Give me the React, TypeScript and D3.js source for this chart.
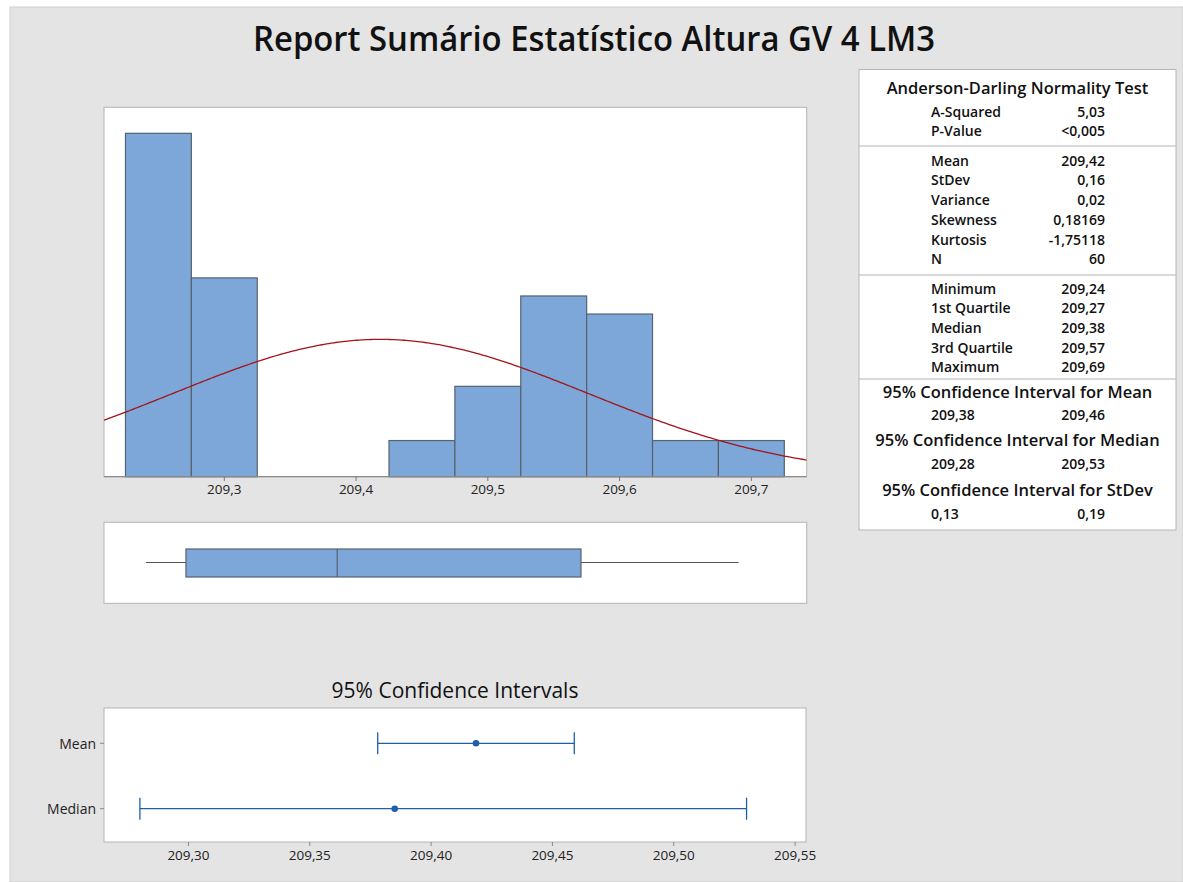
import React from "react";
import * as d3 from "d3";

const TITLE = "Report Sumário Estatístico Altura GV 4 LM3";

// Histogram data
const binEdges = [209.225, 209.275, 209.325, 209.375, 209.425, 209.475, 209.525, 209.575, 209.625, 209.675, 209.725];
const binCounts = [19, 11, 0, 0, 2, 5, 10, 9, 2, 2];
const histTicks = [209.3, 209.4, 209.5, 209.6, 209.7];
const N = 60;
const fitMean = 209.4185;
const fitSd = 0.1575;

// Boxplot five-number summary
const boxStats = { min: 209.2405, q1: 209.2709, median: 209.3857, q3: 209.5707, max: 209.6903 };

// Confidence intervals
const ciRows = ["Mean", "Median"];
const ciCenters = [209.4185, 209.385];
const ciLows = [209.378, 209.28];
const ciHighs = [209.459, 209.53];
const ciTicks = [209.3, 209.35, 209.4, 209.45, 209.5, 209.55];

// Statistics table
const adLabels = ["A-Squared", "P-Value"];
const adValues = ["5,03", "<0,005"];
const momentLabels = ["Mean", "StDev", "Variance", "Skewness", "Kurtosis", "N"];
const momentValues = ["209,42", "0,16", "0,02", "0,18169", "-1,75118", "60"];
const quantLabels = ["Minimum", "1st Quartile", "Median", "3rd Quartile", "Maximum"];
const quantValues = ["209,24", "209,27", "209,38", "209,57", "209,69"];
const ciTableTitles = ["95% Confidence Interval for Mean", "95% Confidence Interval for Median", "95% Confidence Interval for StDev"];
const ciTableLow = ["209,38", "209,28", "0,13"];
const ciTableHigh = ["209,46", "209,53", "0,19"];

const FONT = "'Open Sans', 'Noto Sans', sans-serif";
const BAR_FILL = "#7da7d9";
const BAR_STROKE = "#56626e";
const PANEL_STROKE = "#b4b4b4";
const BG = "#e4e4e4";
const CI_BLUE = "#1f5faa";

const fmt = (v: number, d: number) => v.toFixed(d).replace(".", ",");

export default function App() {
  // Histogram scales
  const hx = d3.scaleLinear().domain([209.2087, 209.742]).range([104, 806.7]);
  const hy = d3.scaleLinear().domain([0, 20.44]).range([476.7, 107.3]);
  const binW = binEdges[1] - binEdges[0];
  const pdf = (x: number) =>
    (N * binW) / (fitSd * Math.sqrt(2 * Math.PI)) * Math.exp(-0.5 * ((x - fitMean) / fitSd) ** 2);
  const curvePts = d3.range(0, 301).map((i) => {
    const x = hx.domain()[0] + ((hx.domain()[1] - hx.domain()[0]) * i) / 300;
    return [hx(x), hy(pdf(x))] as [number, number];
  });
  const curvePath = d3.line()(curvePts) || "";

  // CI scales
  const cx = d3.scaleLinear().domain([209.2652, 209.5545]).range([104, 806]);
  const cy = d3.scalePoint<string>().domain(ciRows).range([743.3, 808.7]);

  const boxTop = 549, boxBot = 577, boxMid = 562.5;

  // Table layout
  const tL = 859, tR = 1176, tT = 69.5, tB = 530;
  const tC = (tL + tR) / 2;
  const labX = 931, valX = 1105;
  const adY = [111, 130.5];
  const momY = [160, 179.5, 199, 219, 239, 258.5];
  const qY = [288, 307.5, 327, 347, 366.5];
  const ciTY = [391, 439, 489];
  const ciVY = [414.5, 463, 513.5];
  const seps = [146, 275, 379];

  const LAB = 14;
  const HEAD = 16.5;
  const VAL = 14;

  return (
    <svg
      width={1183}
      height={882}
      style={{ position: "absolute", left: 0, top: 0, background: "#fff" }}
      fontFamily={FONT}
    >
      <rect x={10} y={7} width={1173} height={875} fill={BG} stroke="#cfcfcf" strokeWidth={1} />
      <text
        x={594}
        y={38}
        textAnchor="middle"
        dominantBaseline="central"
        fontSize={34}
        fontWeight={600}
        fill="#111"
        textLength={682}
        lengthAdjust="spacingAndGlyphs"
      >
        {TITLE}
      </text>

      {/* Histogram panel */}
      <rect x={104} y={107.3} width={702.7} height={369.4} fill="#fff" stroke={PANEL_STROKE} strokeWidth={1} />
      {binCounts.map((c, i) =>
        c > 0 ? (
          <rect
            key={i}
            x={hx(binEdges[i])}
            y={hy(c)}
            width={hx(binEdges[i + 1]) - hx(binEdges[i])}
            height={hy(0) - hy(c)}
            fill={BAR_FILL}
            stroke={BAR_STROKE}
            strokeWidth={1.2}
          />
        ) : null
      )}
      <clipPath id="hclip">
        <rect x={104} y={107.3} width={702.7} height={369.4} />
      </clipPath>
      <path d={curvePath} fill="none" stroke="#a3141a" strokeWidth={1.3} clipPath="url(#hclip)" />
      <line x1={104} x2={806.7} y1={476.7} y2={476.7} stroke="#8a8a8a" strokeWidth={1.2} />
      {histTicks.map((t) => (
        <g key={t}>
          <line x1={hx(t)} x2={hx(t)} y1={476.7} y2={481} stroke="#777" />
          <text x={hx(t)} y={489} textAnchor="middle" dominantBaseline="central" fontSize={13.5} fill="#222">
            {fmt(t, 1)}
          </text>
        </g>
      ))}

      {/* Boxplot panel */}
      <rect x={104} y={522.3} width={702.7} height={81} fill="#fff" stroke={PANEL_STROKE} strokeWidth={1} />
      <line x1={hx(boxStats.min)} x2={hx(boxStats.q1)} y1={boxMid} y2={boxMid} stroke="#555" strokeWidth={1.2} />
      <line x1={hx(boxStats.q3)} x2={hx(boxStats.max)} y1={boxMid} y2={boxMid} stroke="#555" strokeWidth={1.2} />
      <rect
        x={hx(boxStats.q1)}
        y={boxTop}
        width={hx(boxStats.q3) - hx(boxStats.q1)}
        height={boxBot - boxTop}
        fill={BAR_FILL}
        stroke={BAR_STROKE}
        strokeWidth={1.2}
      />
      <line x1={hx(boxStats.median)} x2={hx(boxStats.median)} y1={boxTop} y2={boxBot} stroke={BAR_STROKE} strokeWidth={1.2} />

      {/* CI plot */}
      <text x={455} y={690} textAnchor="middle" dominantBaseline="central" fontSize={21} fontWeight={400} fill="#111">
        95% Confidence Intervals
      </text>
      <rect x={104} y={708} width={702} height={134} fill="#fff" stroke={PANEL_STROKE} strokeWidth={1} />
      {ciRows.map((r, i) => {
        const y = cy(r) as number;
        return (
          <g key={r}>
            <line x1={100} x2={104} y1={y} y2={y} stroke="#888" />
            <text x={96} y={y} textAnchor="end" dominantBaseline="central" fontSize={14} fill="#222">
              {r}
            </text>
            <line x1={cx(ciLows[i])} x2={cx(ciHighs[i])} y1={y} y2={y} stroke={CI_BLUE} strokeWidth={1.3} />
            <line x1={cx(ciLows[i])} x2={cx(ciLows[i])} y1={y - 11} y2={y + 11} stroke={CI_BLUE} strokeWidth={1.3} />
            <line x1={cx(ciHighs[i])} x2={cx(ciHighs[i])} y1={y - 11} y2={y + 11} stroke={CI_BLUE} strokeWidth={1.3} />
            <circle cx={cx(ciCenters[i])} cy={y} r={3.3} fill={CI_BLUE} />
          </g>
        );
      })}
      {ciTicks.map((t) => (
        <g key={t}>
          <line x1={cx(t)} x2={cx(t)} y1={842} y2={846} stroke="#888" />
          <text x={cx(t)} y={854.5} textAnchor="middle" dominantBaseline="central" fontSize={13.5} fill="#222">
            {fmt(t, 2)}
          </text>
        </g>
      ))}

      {/* Statistics table */}
      <rect x={tL} y={tT} width={tR - tL} height={tB - tT} fill="#fff" stroke={PANEL_STROKE} strokeWidth={1} />
      {seps.map((s) => (
        <line key={s} x1={tL} x2={tR} y1={s} y2={s} stroke={PANEL_STROKE} strokeWidth={1} />
      ))}
      <g fontWeight={600} fill="#111" dominantBaseline="central">
        <text x={tC} y={87} textAnchor="middle" fontSize={HEAD}>Anderson-Darling Normality Test</text>
        {adLabels.map((l, i) => (
          <g key={l}>
            <text x={labX} y={adY[i]} fontSize={LAB}>{l}</text>
            <text x={valX} y={adY[i]} textAnchor="end" fontSize={VAL}>{adValues[i]}</text>
          </g>
        ))}
        {momentLabels.map((l, i) => (
          <g key={l}>
            <text x={labX} y={momY[i]} fontSize={LAB}>{l}</text>
            <text x={valX} y={momY[i]} textAnchor="end" fontSize={VAL}>{momentValues[i]}</text>
          </g>
        ))}
        {quantLabels.map((l, i) => (
          <g key={l}>
            <text x={labX} y={qY[i]} fontSize={LAB}>{l}</text>
            <text x={valX} y={qY[i]} textAnchor="end" fontSize={VAL}>{quantValues[i]}</text>
          </g>
        ))}
        {ciTableTitles.map((l, i) => (
          <g key={l}>
            <text x={tC} y={ciTY[i]} textAnchor="middle" fontSize={HEAD}>{l}</text>
            <text x={labX} y={ciVY[i]} fontSize={VAL}>{ciTableLow[i]}</text>
            <text x={valX} y={ciVY[i]} textAnchor="end" fontSize={VAL}>{ciTableHigh[i]}</text>
          </g>
        ))}
      </g>
    </svg>
  );
}
